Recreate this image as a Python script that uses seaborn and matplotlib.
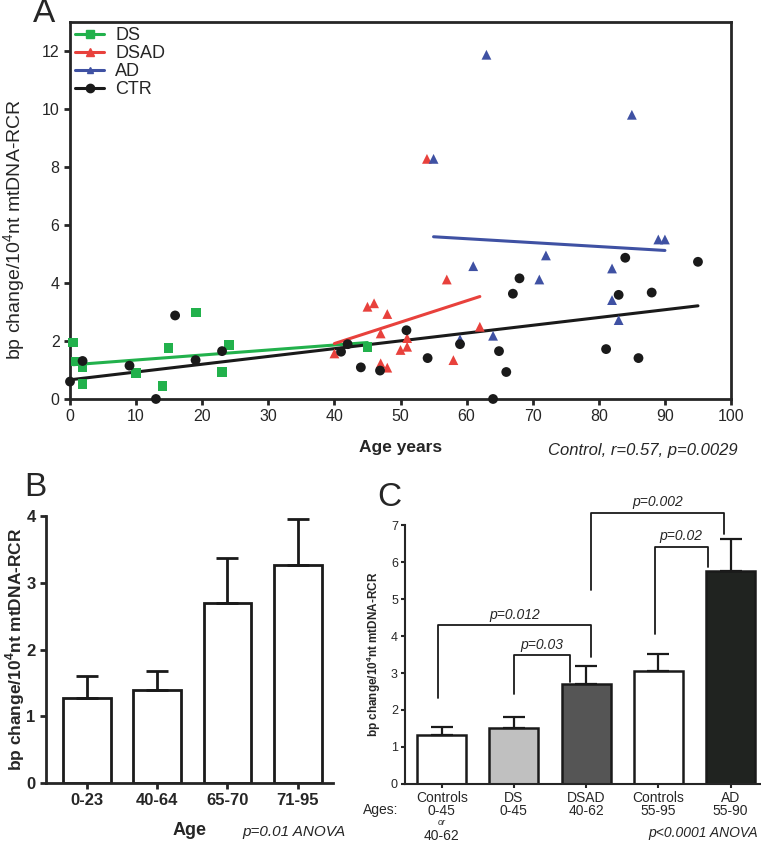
import numpy as np
import pandas as pd
import seaborn as sns
import matplotlib.pyplot as plt
from matplotlib.lines import Line2D

# Panel A: scatter values (age, bp change)
ds_age = [0.5, 0.9, 1.9, 1.9, 10, 14, 14.9, 19, 23, 24, 45]
ds_val = [1.95, 1.29, 1.09, 0.52, 0.90, 0.46, 1.77, 2.98, 0.93, 1.87, 1.80]
dsad_age = [40, 45, 46, 48, 47, 47, 48, 50, 51, 51, 54, 57, 58, 62]
dsad_val = [1.57, 3.18, 3.30, 2.93, 2.26, 1.23, 1.08, 1.69, 1.80, 2.10, 8.28, 4.12, 1.34, 2.49]
ad_age = [55, 63, 59, 61, 64, 71, 72, 82, 82, 83, 85, 89, 90]
ad_val = [8.28, 11.87, 2.06, 4.58, 2.18, 4.12, 4.95, 4.50, 3.41, 2.72, 9.80, 5.50, 5.50]
ctr_age = [0, 1.9, 9, 13, 15.9, 19, 23, 41, 42, 44, 46.9, 50.9, 54.1, 59, 64,
           64.9, 66, 67, 68, 81.1, 83, 84, 86, 88, 95]
ctr_val = [0.60, 1.31, 1.15, 0.00, 2.88, 1.34, 1.65, 1.63, 1.89, 1.09, 0.98, 2.37, 1.41,
           1.89, 0.00, 1.65, 0.93, 3.63, 4.16, 1.72, 3.59, 4.87, 1.41, 3.67, 4.73]

# Panel B: age groups
b_groups = ['0-23', '40-64', '65-70', '71-95']
b_mean = [1.27, 1.39, 2.69, 3.27]
b_sem = [0.34, 0.29, 0.68, 0.68]

# Panel C: diagnosis groups
c_groups = ['Controls\n0-45', 'DS\n0-45', 'DSAD\n40-62', 'Controls\n55-95', 'AD\n55-90']
c_mean = [1.33, 1.52, 2.70, 3.05, 5.76]
c_sem = [0.22, 0.30, 0.49, 0.46, 0.87]
c_colors = ['white', '#c0c0c0', '#555555', 'white', '#1f2320']
# brackets: left x, left leg bottom, right x, right leg bottom, top, label
c_brackets = [(-0.05, 2.32, 2.07, 3.44, 4.29, 'p=0.012'),
              (1.0, 2.43, 1.77, 2.77, 3.48, 'p=0.03'),
              (2.95, 4.05, 3.68, 5.86, 6.41, 'p=0.02'),
              (2.06, 5.24, 3.91, 6.77, 7.33, 'p=0.002')]

sns.set_style('ticks')
plt.rcParams['font.family'] = ['Liberation Sans', 'DejaVu Sans']
plt.rcParams['mathtext.fontset'] = 'custom'
plt.rcParams['mathtext.rm'] = 'Liberation Sans'
plt.rcParams['mathtext.bf'] = 'Liberation Sans:bold'
plt.rcParams['axes.linewidth'] = 2
plt.rcParams['xtick.major.width'] = 2
plt.rcParams['ytick.major.width'] = 2
plt.rcParams['xtick.major.size'] = 4
plt.rcParams['ytick.major.size'] = 4

ylab = 'bp change/10$^{\\mathbf{4}}$nt mtDNA-RCR'
ylab_rm = 'bp change/10$^{4}$nt mtDNA-RCR'
narrow = ['Liberation Sans Narrow', 'Liberation Sans']

fig = plt.figure(figsize=(7.61, 8.46), dpi=100)

# ---------- Panel A ----------
axA = fig.add_axes([0.092, 0.5284, 0.8686, 0.4456])
dfA = pd.DataFrame({
    'age': ds_age + dsad_age + ad_age + ctr_age,
    'val': ds_val + dsad_val + ad_val + ctr_val,
    'group': ['DS'] * len(ds_age) + ['DSAD'] * len(dsad_age) + ['AD'] * len(ad_age) + ['CTR'] * len(ctr_age),
})
palA = {'DS': '#22b14c', 'DSAD': '#e8413c', 'AD': '#3f51a3', 'CTR': '#1a1a1a'}
markA = {'DS': 's', 'DSAD': '^', 'AD': '^', 'CTR': 'o'}
for g in ['DS', 'DSAD', 'AD', 'CTR']:
    sub = dfA[dfA['group'] == g]
    sns.regplot(data=sub, x='age', y='val', ax=axA, ci=None, truncate=True,
                scatter=False, color=palA[g], line_kws={'lw': 2.2})
sns.scatterplot(data=dfA, x='age', y='val', hue='group', style='group',
                palette=palA, markers=markA, s=50, edgecolor='none',
                ax=axA, legend=False, clip_on=False, zorder=3)
axA.set_xlim(0, 100)
axA.set_ylim(0, 13)
axA.set_xticks(range(0, 101, 10))
axA.set_yticks(range(0, 13, 2))
axA.tick_params(labelsize=11.5, direction='out')
axA.set_xlabel('Age years', fontsize=12.5, fontweight='bold')
axA.xaxis.set_label_coords(0.5, -0.108)
axA.set_ylabel(ylab_rm, fontsize=14)
axA.yaxis.set_label_coords(-0.064, 0.45)
handles = [Line2D([], [], color=palA[g], marker=markA[g], lw=2.2,
                  markersize=6 if g != 'AD' else 4) for g in ['DS', 'DSAD', 'AD', 'CTR']]
axA.legend(handles, ['DS', 'DSAD', 'AD', 'CTR'], loc='upper left', frameon=False,
           fontsize=13, handlelength=1.6, labelspacing=0.05, borderaxespad=0.1,
           handletextpad=0.6, borderpad=0.2)
fig.text(738 / 761, 1 - 450 / 846, 'Control, r=0.57, p=0.0029', ha='right', va='center',
         fontsize=12, style='italic')
fig.text(44 / 761, 1 - 14 / 846, 'A', fontsize=24, ha='center', va='center')

# ---------- Panel B ----------
axB = fig.add_axes([0.0605, 0.0745, 0.377, 0.3155])
sns.barplot(x=b_groups, y=b_mean, color='white', edgecolor='#1a1a1a', linewidth=2,
            width=0.68, ax=axB, errorbar=None)
axB.errorbar(range(len(b_groups)), b_mean, yerr=[np.zeros(len(b_sem)), b_sem],
             fmt='none', ecolor='#1a1a1a', elinewidth=2, capsize=8, capthick=2)
axB.set_xlim(-0.58, 3.5)
axB.set_ylim(0, 4)
axB.set_yticks(range(0, 5))
sns.despine(ax=axB)
axB.tick_params(direction='out')
for lab in axB.get_xticklabels() + axB.get_yticklabels():
    lab.set_fontfamily(narrow)
    lab.set_fontweight('bold')
    lab.set_fontsize(12)
axB.set_xlabel('Age', fontsize=13, fontweight='bold', family=narrow, labelpad=10)
axB.set_ylabel(ylab, fontsize=12.5, fontweight='bold')
axB.yaxis.set_label_coords(-0.066, 0.5)
fig.text(345 / 761, 1 - 832 / 846, 'p=0.01 ANOVA', ha='right', va='center',
         fontsize=11, style='italic', family=narrow)
fig.text(35 / 761, 1 - 487 / 846, 'B', fontsize=24, ha='center', va='center')

# ---------- Panel C ----------
axC = fig.add_axes([0.532, 0.0733, 0.468, 0.3061])
sns.barplot(x=c_groups, y=c_mean, hue=c_groups, palette=c_colors, edgecolor='#1a1a1a',
            linewidth=1.8, width=0.68, ax=axC, errorbar=None, legend=False)
axC.errorbar(range(len(c_groups)), c_mean, yerr=[np.zeros(len(c_sem)), c_sem],
             fmt='none', ecolor='#1a1a1a', elinewidth=1.6, capsize=8, capthick=1.6)
axC.set_xlim(-0.51, 4.42)
axC.set_ylim(0, 7)
axC.set_yticks(range(0, 8))
sns.despine(ax=axC)
axC.spines['left'].set_linewidth(1.5)
axC.spines['bottom'].set_linewidth(1.5)
axC.tick_params(direction='out', width=1.5, length=3, pad=2)
for lab in axC.get_yticklabels():
    lab.set_fontsize(9)
    lab.set_fontfamily(narrow)
for lab in axC.get_xticklabels():
    lab.set_fontsize(10)
    lab.set_fontfamily(narrow)
    lab.set_linespacing(0.9)
axC.set_ylabel(ylab, fontsize=8.5, fontweight='bold', labelpad=6)
for xl, yl, xr, yr, yt, txt in c_brackets:
    axC.plot([xl, xl, xr, xr], [yl, yt, yt, yr], color='#1a1a1a', lw=1.3, clip_on=False)
    axC.text((xl + xr) / 2, yt + 0.1, txt, ha='center', va='bottom', fontsize=10,
             style='italic', family=narrow)
axC.text(0, -0.148, 'or', transform=axC.get_xaxis_transform(), ha='center', va='center',
         fontsize=6.5, style='italic', family=narrow)
axC.text(0, -0.2, '40-62', transform=axC.get_xaxis_transform(), ha='center', va='center',
         fontsize=10, family=narrow)
fig.text(398 / 761, 1 - 810 / 846, 'Ages:', ha='right', va='center', fontsize=10,
         family=narrow)
fig.text(758 / 761, 1 - 833 / 846, 'p<0.0001 ANOVA', ha='right', va='center',
         fontsize=10, style='italic', family=narrow)
fig.text(389 / 761, 1 - 497 / 846, 'C', fontsize=24, ha='center', va='center')

fig.savefig('out.png', dpi=100)
